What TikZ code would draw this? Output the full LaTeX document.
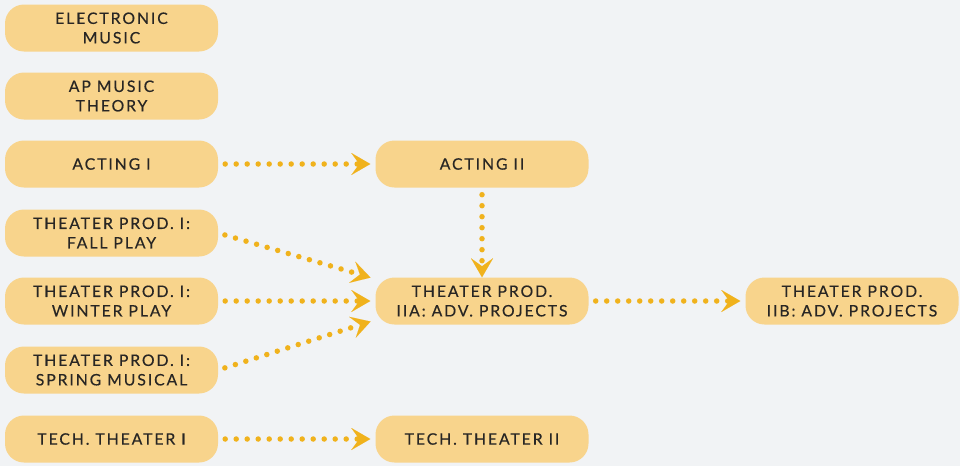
\documentclass[tikz,border=0pt]{standalone}
\usepackage{fontspec}
\setmainfont{Lato}[LetterSpace=12,FakeBold=0.35]
\usetikzlibrary{arrows.meta}
\definecolor{bg}{RGB}{241,243,245}
\definecolor{boxfill}{RGB}{248,212,140}
\definecolor{arr}{RGB}{240,178,28}
\definecolor{txt}{RGB}{40,38,36}
\tikzset{
  course/.style={fill=boxfill, draw=none, rounded corners=19pt, minimum width=213pt, minimum height=47pt,
    inner sep=0pt, align=center, text=txt, font=\fontsize{15.8}{19.5}\selectfont},
  flow/.style={draw=arr, line width=5.5pt, line cap=round, dash pattern=on 0pt off 11pt,
    -{Stealth[length=19pt,width=22pt,inset=8pt,line width=0.01pt,fill=arr]},
    shorten <=7pt, shorten >=5pt}
}
\begin{document}
\begin{tikzpicture}[x=1pt,y=-1pt]
\fill[bg] (0,0) rectangle (960,466);
\useasboundingbox (0,0) rectangle (960,466);
\node[course] (elec) at (111.5,28) {ELECTRONIC\\MUSIC};
\node[course] (ap) at (111.5,96) {AP MUSIC\\THEORY};
\node[course] (act1) at (111.5,164) {ACTING I};
\node[course] (fall) at (111.5,233) {THEATER PROD. I:\\FALL PLAY};
\node[course] (winter) at (111.5,301) {THEATER PROD. I:\\WINTER PLAY};
\node[course] (spring) at (111.5,370) {THEATER PROD. I:\\SPRING MUSICAL};
\node[course] (tech1) at (111.5,439) {TECH. THEATER I};
\node[course] (act2) at (482,164) {ACTING II};
\node[course] (tpa) at (482,301) {THEATER PROD.\\IIA: ADV. PROJECTS};
\node[course] (tech2) at (482,439) {TECH. THEATER II};
\node[course] (tpb) at (852,301) {THEATER PROD.\\IIB: ADV. PROJECTS};
\coordinate (tpaUp) at ([yshift=22pt]tpa.west);
\coordinate (tpaDown) at ([yshift=-19pt]tpa.west);
\draw[flow] (act1) -- (act2);
\draw[flow, shorten >=0pt] (act2) -- (tpa);
\draw[flow] (fall.east) -- (tpaUp);
\draw[flow] (winter) -- (tpa);
\draw[flow] (spring.east) -- (tpaDown);
\draw[flow] (tpa) -- (tpb);
\draw[flow] (tech1) -- (tech2);
\end{tikzpicture}
\end{document}
